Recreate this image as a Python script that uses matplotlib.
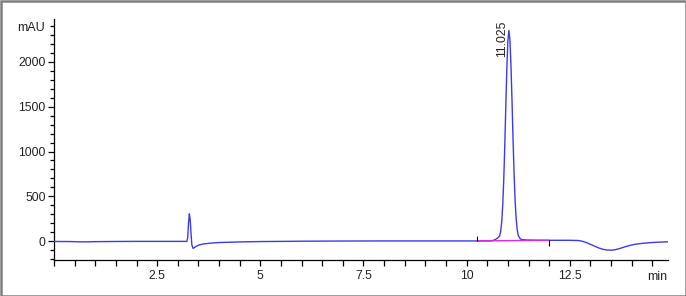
import matplotlib
matplotlib.use("Agg")
import matplotlib.pyplot as plt
from matplotlib.patches import Rectangle
from matplotlib.ticker import MultipleLocator, FixedLocator

plt.rcParams['font.family'] = ['Liberation Sans', 'DejaVu Sans']

# chromatogram trace (min, mAU)
time_min = [0.0, 0.4, 0.6, 0.8, 1.0, 1.5, 2.0, 2.5, 3.0, 3.22,
            3.24, 3.26, 3.28, 3.30, 3.32, 3.34, 3.37, 3.40, 3.44, 3.5,
            3.6, 3.8, 4.0, 4.5, 5.0, 6.0, 7.0, 8.0, 9.0, 10.0,
            10.3, 10.5, 10.6, 10.65, 10.7, 10.75, 10.8, 10.825, 10.85, 10.875,
            10.9, 10.925, 10.95, 10.975, 11.0, 11.025, 11.05, 11.075, 11.1, 11.125,
            11.15, 11.175, 11.2, 11.225, 11.25, 11.3, 11.35, 11.45, 11.6, 12.0,
            12.5, 12.7, 12.8, 12.9, 13.0, 13.1, 13.2, 13.3, 13.4, 13.5,
            13.6, 13.7, 13.8, 13.9, 14.0, 14.1, 14.2, 14.3, 14.45, 14.6,
            14.75, 14.9]
signal_mau = [-3, -4, -7, -7, -5, -3, -2, -2, -2, -2,
              40, 200, 305, 240, 90, -40, -80, -72, -58, -45,
              -32, -21, -15, -8, -4, 0, 2, 3, 3, 3,
              3, 4, 5, 10, 20, 35, 60, 110, 215, 405,
              693, 1076, 1515, 1934, 2238, 2350, 2238, 1950, 1560, 1130,
              750, 450, 250, 130, 65, 25, 18, 14, 12, 10,
              10, 8, 0, -15, -35, -55, -75, -90, -98, -100,
              -95, -83, -68, -54, -42, -33, -27, -22, -16, -12,
              -9, -6]

baseline_t = [10.25, 12.0]
baseline_y = [3, 10]

peak_time = 11.025
peak_height = 2350
peak_label = "11.025"

x_ticks = [2.5, 5, 7.5, 10, 12.5]
y_ticks = [0, 500, 1000, 1500, 2000]

fig = plt.figure(figsize=(6.86, 2.96), dpi=100)
ax = fig.add_axes([54 / 686, 36.5 / 296, 614 / 686, 240 / 296])

ax.plot(time_min, signal_mau, color='#3a3af2', lw=1.0, zorder=3)
ax.plot(baseline_t, baseline_y, color='#e628d2', lw=1.0, zorder=3.5)
ax.vlines(baseline_t[0], baseline_y[0], baseline_y[0] + 60, color='black', lw=0.8, zorder=4)
ax.vlines(baseline_t[1], baseline_y[1] - 60, baseline_y[1], color='black', lw=0.8, zorder=4)

ax.annotate(peak_label, xy=(peak_time, peak_height), xytext=(-4.8, -19),
            textcoords='offset points', rotation=90, ha='center', va='bottom',
            fontsize=8.8, color='#222222')

ax.set_xlim(0, 14.88)
ax.set_ylim(-204, 2472)

ax.xaxis.set_major_locator(FixedLocator(x_ticks))
ax.xaxis.set_minor_locator(MultipleLocator(0.5))
ax.yaxis.set_major_locator(FixedLocator(y_ticks))
ax.yaxis.set_minor_locator(MultipleLocator(100))
ax.set_xticklabels([f"{t:g}" for t in x_ticks])
ax.set_yticklabels([str(t) for t in y_ticks])

for side in ('top', 'right'):
    ax.spines[side].set_visible(False)
for side in ('left', 'bottom'):
    ax.spines[side].set_linewidth(0.9)

ax.tick_params(axis='x', which='both', direction='out', length=4.6, width=0.9,
               pad=3.0, labelsize=8.8, labelcolor='#222222')
ax.tick_params(axis='y', which='major', direction='out', length=4.4, width=0.9,
               pad=1.6, labelsize=8.8, labelcolor='#222222')
ax.tick_params(axis='y', which='minor', direction='out', length=2.8, width=0.9)

fig.text(45 / 686, 1 - 28 / 296, "mAU", ha='right', va='center', fontsize=9, color='#222222')
fig.text(667 / 686, 1 - 277 / 296, "min", ha='right', va='center', fontsize=9, color='#222222')

fig.patches.append(Rectangle((0.5 / 686, 0.5 / 296), 685 / 686, 295 / 296,
                             transform=fig.transFigure, fill=False,
                             edgecolor='#808080', lw=1.8))

fig.savefig("out.png", dpi=100)
